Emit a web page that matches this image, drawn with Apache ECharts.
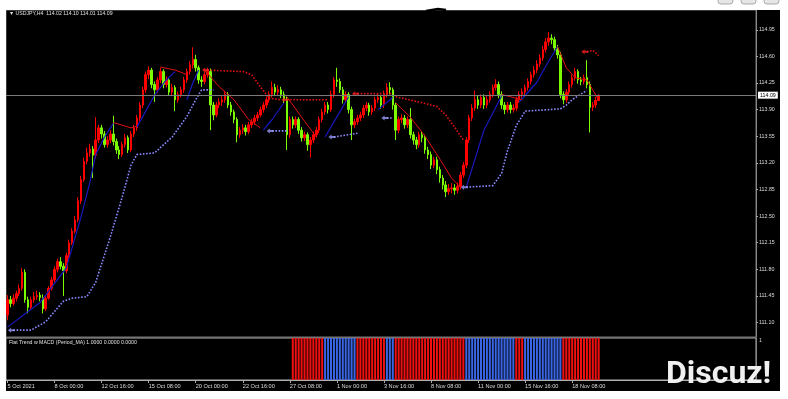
<!DOCTYPE html>
<html><head><meta charset="utf-8">
<script src="https://cdn.jsdelivr.net/npm/echarts@6/dist/echarts.min.js"></script>
<style>html,body{margin:0;padding:0;background:#fff}#c{width:788px;height:399px}</style>
</head><body><div id="c"></div>
<script>
// ---- data (USDJPY H4) ----
const opens = [111.20,111.40,111.35,111.42,111.48,111.55,111.76,111.40,111.30,111.40,
111.44,111.46,111.43,111.28,111.42,111.55,111.66,111.80,111.90,111.84,
111.78,111.98,112.15,112.30,112.45,112.70,112.98,113.22,113.33,113.38,
113.30,113.50,113.66,113.58,113.44,113.50,113.58,113.48,113.37,113.31,
113.44,113.53,113.37,113.58,113.66,113.79,113.96,114.16,114.36,114.42,
114.23,114.16,114.29,114.40,114.23,114.29,114.13,114.19,114.03,114.10,
114.16,114.29,114.40,114.49,114.56,114.45,114.29,114.27,114.36,114.40,
113.96,113.83,113.96,114.00,114.03,114.10,113.96,113.87,113.77,113.57,
113.63,113.66,113.61,113.70,113.74,113.79,113.83,113.90,113.96,114.03,
114.10,114.19,114.13,114.16,114.10,114.03,113.57,113.77,113.70,113.77,
113.63,113.53,113.57,113.44,113.50,113.57,113.63,113.77,113.87,113.96,
113.90,114.10,114.29,114.27,114.16,114.03,114.10,113.90,113.70,113.74,
113.79,113.83,113.92,113.96,113.87,113.92,114.03,114.06,113.96,114.10,
114.19,114.16,113.96,113.63,113.77,113.79,113.70,113.77,113.57,113.50,
113.44,113.57,113.53,113.37,113.31,113.17,113.24,113.11,113.00,112.91,
112.82,112.86,112.87,112.84,112.89,113.04,113.17,113.50,113.79,113.92,
114.03,113.96,114.06,113.96,114.03,114.10,114.19,114.23,114.10,113.96,
113.90,113.96,113.90,113.92,114.03,114.10,114.13,114.19,114.27,114.36,
114.42,114.50,114.58,114.69,114.79,114.84,114.82,114.71,114.62,114.10,
114.03,114.13,114.23,114.32,114.40,114.29,114.27,114.32,114.23,113.93,
113.96,114.02];
const closes = [111.40,111.35,111.42,111.48,111.55,111.76,111.40,111.30,111.40,111.44,
111.46,111.43,111.28,111.42,111.55,111.66,111.80,111.90,111.84,111.78,
111.98,112.15,112.30,112.45,112.70,112.98,113.22,113.33,113.38,113.30,
113.50,113.66,113.58,113.44,113.50,113.58,113.48,113.37,113.31,113.44,
113.53,113.37,113.58,113.66,113.79,113.96,114.16,114.36,114.42,114.23,
114.16,114.29,114.40,114.23,114.29,114.13,114.19,114.03,114.10,114.16,
114.29,114.40,114.49,114.56,114.45,114.29,114.27,114.36,114.40,113.96,
113.83,113.96,114.00,114.03,114.10,113.96,113.87,113.77,113.57,113.63,
113.66,113.61,113.70,113.74,113.79,113.83,113.90,113.96,114.03,114.10,
114.19,114.13,114.16,114.10,114.03,113.57,113.77,113.70,113.77,113.63,
113.53,113.57,113.44,113.50,113.57,113.63,113.77,113.87,113.96,113.90,
114.10,114.29,114.27,114.16,114.03,114.10,113.90,113.70,113.74,113.79,
113.83,113.92,113.96,113.87,113.92,114.03,114.06,113.96,114.10,114.19,
114.16,113.96,113.63,113.77,113.79,113.70,113.77,113.57,113.50,113.44,
113.57,113.53,113.37,113.31,113.17,113.24,113.11,113.00,112.91,112.82,
112.86,112.87,112.84,112.89,113.04,113.17,113.50,113.79,113.92,114.03,
113.96,114.06,113.96,114.03,114.10,114.19,114.23,114.10,113.96,113.90,
113.96,113.90,113.92,114.03,114.10,114.13,114.19,114.27,114.36,114.42,
114.50,114.58,114.69,114.79,114.84,114.82,114.71,114.62,114.10,114.03,
114.13,114.23,114.32,114.40,114.29,114.27,114.32,114.23,113.93,113.96,
114.02,114.09];
const lows = [111.13,111.30,111.32,111.38,111.45,111.52,111.36,111.22,111.27,111.36,
111.40,111.38,111.22,111.25,111.40,111.52,111.63,111.76,111.80,111.45,
111.75,111.95,112.12,112.27,112.42,112.66,112.95,113.18,113.28,113.00,
113.26,113.46,113.52,113.40,113.40,113.46,113.43,113.32,113.25,113.28,
113.40,113.33,113.34,113.54,113.62,113.75,113.92,114.12,114.30,114.18,
114.00,114.12,114.25,114.18,114.19,114.08,114.09,113.88,113.99,114.06,
114.12,114.25,114.36,114.44,114.40,114.24,114.20,114.23,114.32,113.63,
113.76,113.80,113.92,113.95,113.99,113.92,113.82,113.72,113.47,113.53,
113.58,113.56,113.58,113.66,113.70,113.75,113.80,113.86,113.92,113.99,
114.06,114.08,114.09,114.05,113.98,113.37,113.53,113.65,113.66,113.58,
113.48,113.49,113.36,113.27,113.46,113.53,113.59,113.73,113.83,113.85,
113.87,114.06,114.20,114.12,113.98,113.99,113.85,113.50,113.66,113.70,
113.75,113.79,113.88,113.82,113.83,113.88,113.99,113.91,113.92,114.06,
114.10,113.90,113.50,113.59,113.72,113.65,113.66,113.52,113.44,113.38,
113.40,113.47,113.32,113.25,113.12,113.13,113.05,112.94,112.85,112.75,
112.78,112.80,112.78,112.80,112.85,113.00,113.13,113.46,113.75,113.88,
113.91,113.92,113.91,113.92,113.99,114.06,114.15,114.05,113.91,113.84,
113.86,113.85,113.86,113.88,113.99,114.06,114.09,114.15,114.23,114.32,
114.38,114.46,114.54,114.65,114.74,114.76,114.66,114.57,114.05,113.97,
113.99,114.09,114.19,114.28,114.24,114.22,114.23,114.18,113.60,113.88,
113.92,114.01];
const highs = [111.46,111.45,111.47,111.52,111.60,111.82,111.80,111.44,111.44,111.50,
111.52,111.50,111.47,111.46,111.58,111.70,111.84,111.94,111.96,111.88,
112.02,112.19,112.34,112.50,112.75,113.03,113.27,113.40,113.45,113.42,
113.80,113.70,113.70,113.62,113.55,113.63,113.82,113.52,113.42,113.48,
113.58,113.56,113.62,113.70,113.83,114.00,114.20,114.40,114.47,114.45,
114.27,114.33,114.45,114.43,114.34,114.32,114.24,114.22,114.14,114.20,
114.33,114.44,114.54,114.72,114.62,114.48,114.34,114.40,114.45,114.44,
114.00,114.00,114.05,114.08,114.15,114.13,114.00,113.90,113.80,113.67,
113.71,113.70,113.74,113.78,113.83,113.87,113.94,114.00,114.07,114.14,
114.27,114.24,114.22,114.20,114.14,114.07,113.81,113.81,113.81,113.80,
113.67,113.61,113.60,113.54,113.61,113.67,113.81,113.91,114.00,114.00,
114.15,114.33,114.45,114.31,114.20,114.14,114.13,113.94,113.78,113.83,
113.87,113.96,114.00,113.99,113.96,114.07,114.11,114.09,114.15,114.25,
114.26,114.19,113.99,113.81,113.84,113.83,113.81,113.92,113.61,113.54,
113.61,113.62,113.57,113.41,113.35,113.28,113.28,113.15,113.04,112.96,
112.92,112.93,112.92,112.94,113.08,113.21,113.54,113.83,113.97,114.15,
114.08,114.10,114.10,114.08,114.14,114.23,114.30,114.27,114.14,114.00,
114.00,114.00,113.97,114.07,114.14,114.18,114.23,114.31,114.40,114.47,
114.55,114.63,114.74,114.84,114.92,114.89,114.86,114.75,114.66,114.14,
114.17,114.27,114.36,114.45,114.43,114.33,114.36,114.55,114.27,114.00,
114.07,114.10];

const xTickLabels = ['5 Oct 2021','8 Oct 00:00','12 Oct 16:00','15 Oct 08:00','20 Oct 00:00','22 Oct 16:00',
  '27 Oct 08:00','1 Nov 00:00','3 Nov 16:00','8 Nov 08:00','11 Nov 00:00','15 Nov 16:00','18 Nov 08:00'];
const xTickEvery = 16;
const yTickValues = [111.10,111.45,111.80,112.15,112.50,112.85,113.20,113.55,113.90,114.25,114.60,114.95];
const lastPrice = 114.09;

// trend indicator segments: [barIndex, price]
const blueSolidSegs = [
  [[0,111.04],[11,111.36],[20,111.82],[25,112.49],[28,112.94],[30,113.31],[33,113.54],[36,113.72]],
  [[44,113.67],[50,114.09],[54,114.29],[57,114.40]],
  [[61,114.03],[63,114.25],[65,114.42]],
  [[87,113.63],[90,113.77],[94,113.99]],
  [[108,113.54],[113,113.87],[116,114.07]],
  [[126,113.90],[131,114.06]],
  [[156,112.88],[162,113.63],[168,114.08]],
  [[174,114.00],[180,114.26],[183,114.47],[187,114.73]]
];
const blueDotSegs = [
  [[2,111.00],[8,111.00],[13,111.11],[19,111.38],[22,111.42],[27,111.44],[30,111.63],[35,112.23],[39,112.75],
   [42,113.17],[44,113.31],[50,113.33],[56,113.54],[61,113.81],[64,114.03],[66,114.16],[70,114.16]],
  [[90,113.62],[95,113.62]],
  [[111,113.54],[119,113.59]],
  [[129,113.79],[131,113.79]],
  [[156,112.88],[165,112.90],[168,113.06],[170,113.36],[173,113.69],[176,113.88],[188,113.91],[190,113.96],
   [192,114.03],[196,114.13],[197,114.15]]
];
const redSolidSegs = [
  [[36,113.73],[42,113.66],[44,113.68]],
  [[52,114.46],[57,114.42],[61,114.36]],
  [[67,114.42],[72,114.20],[77,114.03],[82,113.77],[86,113.66]],
  [[95,114.07],[100,113.80],[105,113.54]],
  [[132,113.99],[137,113.80],[142,113.55],[147,113.25],[151,113.00],[154,112.88]],
  [[168,114.10],[175,114.03]],
  [[187,114.73],[190,114.45],[193,114.32],[197,114.29],[201,114.03]]
];
const redDotSegs = [
  [[68,114.42],[80,114.40],[83,114.36],[86,114.20],[89,114.05],[93,114.03]],
  [[95,114.03],[109,114.03]],
  [[119,114.11],[131,114.11]],
  [[132,114.07],[141,113.99],[146,113.94],[149,113.83],[152,113.67],[155,113.50]],
  [[197,114.66],[199,114.68],[201,114.61]]
];
const blueArrows = [[2,111.00],[90,113.62],[111,113.54],[129,113.79],[156,112.88]];
const redArrows = [[68,114.42],[95,114.03],[119,114.11],[197,114.66]];

// Flat Trend w MACD histogram: runs starting at bar 97
const flatStart = 97;
const flatRunLengths = [11, 11, 10, 3, 24, 17, 3, 13, 13];
const flatRunDirs = ['dn','up','dn','up','dn','up','dn','up','dn'];

// ---- build ----
const SLOTS = 255;
const cats = Array.from({length: SLOTS}, (_, i) => String(i));
const candleData = closes.map((c, i) => [opens[i], c, lows[i], highs[i]]);
const flatData = [];
for (let i = 0; i < flatStart; i++) flatData.push('-');
flatRunLengths.forEach((n, k) => {
  for (let j = 0; j < n; j++) flatData.push({value: 1, itemStyle: {color: flatRunDirs[k] === 'up' ? '#3a66e6' : '#f01010'}});
});

const FONT = '"Liberation Sans", Arial, sans-serif';
const series = [{
  type: 'candlestick', xAxisIndex: 0, yAxisIndex: 0, data: candleData, barWidth: 2, z: 2,
  itemStyle: {color: '#ff0000', color0: '#7cfc00', borderColor: '#ff0000', borderColor0: '#7cfc00', borderWidth: 1},
  markLine: {
    silent: true, symbol: 'none', animation: false,
    lineStyle: {color: '#7a7a7a', type: 'solid', width: 1},
    label: {position: 'end', formatter: lastPrice.toFixed(2), backgroundColor: '#ffffff', color: '#000',
      fontSize: 5.3, fontFamily: FONT, padding: [1, 2], distance: 2},
    data: [{yAxis: lastPrice}]
  }
}];
function addSegs(segs, color, dotted, width) {
  segs.forEach(seg => series.push({
    type: 'line', xAxisIndex: 0, yAxisIndex: 0, data: seg, symbol: 'none', silent: true, z: 3,
    lineStyle: {color, width, type: dotted ? [1.6, 1.6] : 'solid'}
  }));
}
addSegs(blueSolidSegs, '#1818c0', false, 1.2);
addSegs(blueDotSegs, '#8a8aff', true, 1.6);
addSegs(redSolidSegs, '#e01010', false, 1);
addSegs(redDotSegs, '#e01010', true, 1.6);
const arrowPath = 'path://M0,5 L5,0 L5,3 L11,3 L11,7 L5,7 L5,10 Z';
series.push({type: 'scatter', xAxisIndex: 0, yAxisIndex: 0, data: blueArrows, symbol: arrowPath,
  symbolSize: [7, 5], symbolOffset: [-2, 0], itemStyle: {color: '#9a9aff'}, z: 4, silent: true});
series.push({type: 'scatter', xAxisIndex: 0, yAxisIndex: 0, data: redArrows, symbol: arrowPath,
  symbolSize: [7, 5], symbolOffset: [-2, 0], itemStyle: {color: '#ff2020'}, z: 4, silent: true});
series.push({type: 'bar', xAxisIndex: 1, yAxisIndex: 1, data: flatData, barWidth: 2, silent: true});

const tickFn = (idx) => idx % xTickEvery === 0 && idx / xTickEvery < xTickLabels.length;

const option = {
  animation: false,
  backgroundColor: '#000000',
  grid: [
    {left: 6, top: 10, width: 750, height: 327, show: true, borderColor: '#777', borderWidth: 1, backgroundColor: 'transparent'},
    {left: 6, top: 338, width: 750, height: 42, show: true, borderColor: '#b0b0b0', borderWidth: 1, backgroundColor: 'transparent'}
  ],
  xAxis: [
    {type: 'category', gridIndex: 0, data: cats, boundaryGap: true,
      axisLine: {show: false}, axisTick: {show: false}, axisLabel: {show: false}, splitLine: {show: false}},
    {type: 'category', gridIndex: 1, data: cats, boundaryGap: true, position: 'bottom',
      axisLine: {show: true, lineStyle: {color: '#b0b0b0'}},
      axisTick: {show: true, alignWithLabel: true, interval: tickFn, length: 3, lineStyle: {color: '#aaa'}},
      axisLabel: {show: true, interval: tickFn, formatter: (v, idx) => xTickLabels[idx / xTickEvery] || '',
        align: 'left', color: '#dddddd', fontSize: 5.6, fontFamily: FONT, margin: 3},
      splitLine: {show: false}}
  ],
  yAxis: [
    {type: 'value', gridIndex: 0, position: 'right', min: 110.91, max: 115.21, scale: true,
      axisLine: {show: true, lineStyle: {color: '#888'}},
      axisTick: {show: true, customValues: yTickValues, length: 2, lineStyle: {color: '#aaa'}},
      axisLabel: {show: true, customValues: yTickValues, formatter: v => v.toFixed(2), color: '#dddddd',
        fontSize: 5.3, fontFamily: FONT, margin: 3},
      splitLine: {show: false}},
    {type: 'value', gridIndex: 1, position: 'right', min: 0, max: 1,
      axisLine: {show: true, lineStyle: {color: '#888'}}, axisTick: {show: false},
      axisLabel: {show: true, customValues: [1], color: '#dddddd', fontSize: 5.3, fontFamily: FONT, margin: 3, verticalAlign: 'top'},
      splitLine: {show: false}}
  ],
  graphic: {elements: [
    {type: 'text', x: 9, y: 11, z: 50, style: {text: '\u25BC USDJPY,H4  114.02 114.10 114.01 114.09', fill: '#e0e0e0',
      font: '5.2px ' + FONT, textVerticalAlign: 'top'}},
    {type: 'text', x: 9, y: 340, z: 50, style: {text: 'Flat Trend w MACD (Period_MA) 1.0000 0.0000 0.0000', fill: '#e0e0e0',
      font: '5.2px ' + FONT, textVerticalAlign: 'top'}},
    {type: 'rect', z: 90, shape: {x: 0, y: 0, width: 788, height: 10}, style: {fill: '#ffffff'}},
    {type: 'rect', z: 90, shape: {x: 0, y: 0, width: 6, height: 399}, style: {fill: '#ffffff'}},
    {type: 'rect', z: 90, shape: {x: 780, y: 0, width: 8, height: 399}, style: {fill: '#ffffff'}},
    {type: 'rect', z: 90, shape: {x: 0, y: 391, width: 788, height: 8}, style: {fill: '#ffffff'}},
    {type: 'rect', z: 91, shape: {x: 718, y: -6, width: 15, height: 10, r: 3}, style: {fill: '#e6e6e6', stroke: '#aaa'}},
    {type: 'rect', z: 91, shape: {x: 741, y: -6, width: 15, height: 10, r: 3}, style: {fill: '#e6e6e6', stroke: '#aaa'}},
    {type: 'rect', z: 91, shape: {x: 764, y: -6, width: 15, height: 10, r: 3}, style: {fill: '#e6e6e6', stroke: '#aaa'}},
    {type: 'polyline', z: 91, shape: {points: [[426, 11], [432, 10], [438, 9], [446, 10]]}, style: {stroke: '#000', lineWidth: 2.5, fill: null}},
    {type: 'text', x: 666, y: 375, z: 95, style: {text: 'Discuz!', fill: '#f0f0f0', font: 'bold 32px Roboto, sans-serif',
      textVerticalAlign: 'middle', shadowBlur: 2, shadowColor: 'rgba(0,0,0,0.6)', shadowOffsetX: 1, shadowOffsetY: 1}}
  ]},
  series
};
const chart = echarts.init(document.getElementById('c'), null, {renderer: 'canvas'});
chart.setOption(option);
</script>
</body></html>
